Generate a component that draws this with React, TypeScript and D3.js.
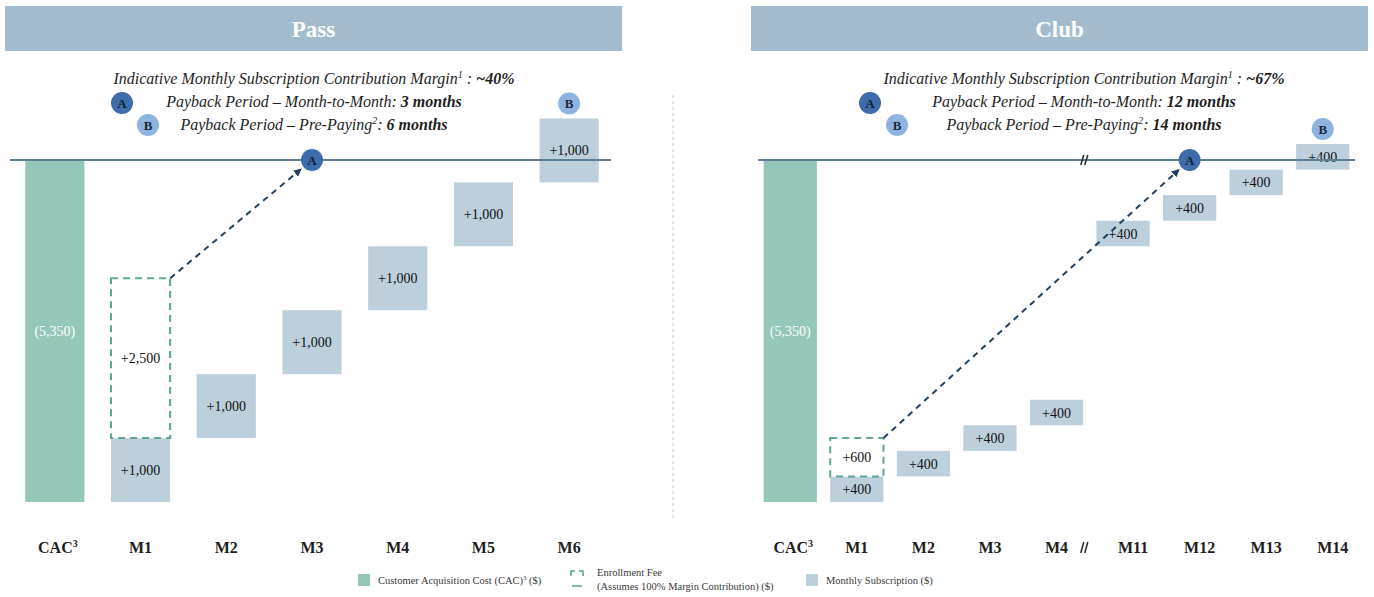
import React from "react";
import * as d3 from "d3";

// ---------- data ----------
const passCategories = ["CAC", "M1", "M2", "M3", "M4", "M5", "M6"];
const passMonths = [1, 2, 3, 4, 5, 6];
const passSubscription = [1000, 1000, 1000, 1000, 1000, 1000];
const passEnrollment = 2500;
const passCac = 5350;
const passMargin = "~40%";
const passPaybackMonthly = "3 months";
const passPaybackPrepay = "6 months";
const passPaybackA = "M3";
const passPaybackB = "M6";

const clubCategories = ["CAC", "M1", "M2", "M3", "M4", "M11", "M12", "M13", "M14"];
const clubMonths = [1, 2, 3, 4, 11, 12, 13, 14];
const clubSubscription = [400, 400, 400, 400, 400, 400, 400, 400];
const clubEnrollment = 600;
const clubCac = 5350;
const clubMargin = "~67%";
const clubPaybackMonthly = "12 months";
const clubPaybackPrepay = "14 months";
const clubPaybackA = "M12";
const clubPaybackB = "M14";

const legendItems = ["Customer Acquisition Cost (CAC)", "Enrollment Fee", "(Assumes 100% Margin Contribution) ($)", "Monthly Subscription ($)"];

// ---------- style ----------
const W = 1374;
const H = 597;
const FONT = "'Liberation Serif', 'Times New Roman', serif";
const COL = {
  header: "#a3bbcf",
  cac: "#93c8b9",
  sub: "#bccfdb",
  enroll: "#5ea690",
  line: "#5c7f95",
  arrow: "#23405e",
  a: "#3f6cab",
  b: "#8fb3e0",
  text: "#1e1e1e",
};

const y = d3.scaleLinear().domain([-5350, 0]).range([502, 160]);
const fmt = d3.format(",");

type PanelProps = {
  id: string;
  title: string;
  headerX: [number, number];
  lineX: [number, number];
  bandRange: [number, number];
  paddingInner: number;
  paddingOuter: number;
  categories: string[];
  months: number[];
  subs: number[];
  enrollment: number;
  cac: number;
  textCx: number;
  margin: string;
  monthly: string;
  prepay: string;
  aX: number;
  bX: number;
  paybackA: string;
  paybackB: string;
  breakAfter?: string;
  labelFont: number;
};

function Circle({ cx, cy, fill, label }: { cx: number; cy: number; fill: string; label: string }) {
  return (
    <g>
      <circle cx={cx} cy={cy} r={11} fill={fill} />
      <text x={cx} y={cy + 4.5} textAnchor="middle" fontFamily={FONT} fontWeight="bold" fontSize={13} fill={label === "A" ? "#0e1f33" : "#1a2a3a"}>
        {label}
      </text>
    </g>
  );
}

function Panel(p: PanelProps) {
  const x = d3
    .scaleBand<string>()
    .domain(p.categories)
    .range(p.bandRange)
    .paddingInner(p.paddingInner)
    .paddingOuter(p.paddingOuter);
  const bw = x.bandwidth();
  const cx = (c: string) => (x(c) as number) + bw / 2;
  const y0 = y(0);

  const bars = p.months.map((m, i) => {
    const start = -p.cac + (m - 1) * p.subs[i];
    return { cat: p.categories[i + 1], start, end: start + p.subs[i], v: p.subs[i] };
  });
  const m1 = bars[0];
  const enrTop = m1.end + p.enrollment;

  const aCx = cx(p.paybackA);
  const barB = bars.find((b) => b.cat === p.paybackB)!;

  // arrow
  const ax0 = (x(m1.cat) as number) + bw;
  const ay0 = y(enrTop);
  const dx = aCx - ax0;
  const dy = y0 - ay0;
  const len = Math.sqrt(dx * dx + dy * dy);
  const ax1 = aCx - (dx / len) * 15;
  const ay1 = y0 - (dy / len) * 15;

  let brk: number | null = null;
  let brkIndex = p.categories.length;
  if (p.breakAfter) {
    const i = p.categories.indexOf(p.breakAfter);
    brkIndex = i;
    brk = ((x(p.categories[i]) as number) + bw + (x(p.categories[i + 1]) as number)) / 2 - 5;
  }

  return (
    <g>
      <rect x={p.headerX[0]} y={6} width={p.headerX[1] - p.headerX[0]} height={45} fill={COL.header} />
      <text x={(p.headerX[0] + p.headerX[1]) / 2} y={37} textAnchor="middle" fontFamily={FONT} fontSize={23} fill="#fff" fontWeight="bold">
        {p.title}
      </text>

      <g fontFamily={FONT} fontStyle="italic" fontSize={16} fill={COL.text} textAnchor="middle">
        <text x={p.textCx} y={84}>
          Indicative Monthly Subscription Contribution Margin
          <tspan fontSize={10} dy={-6}>1</tspan>
          <tspan dy={6}> : </tspan>
          <tspan fontWeight="bold">{p.margin}</tspan>
        </text>
        <text x={p.textCx} y={107}>
          Payback Period – Month-to-Month: <tspan fontWeight="bold">{p.monthly}</tspan>
        </text>
        <text x={p.textCx} y={130}>
          Payback Period – Pre-Paying
          <tspan fontSize={10} dy={-6}>2</tspan>
          <tspan dy={6}>: </tspan>
          <tspan fontWeight="bold">{p.prepay}</tspan>
        </text>
      </g>
      <Circle cx={p.aX} cy={103} fill={COL.a} label="A" />
      <Circle cx={p.bX} cy={125} fill={COL.b} label="B" />

      {/* CAC bar */}
      <rect x={x("CAC")} y={y0} width={bw} height={y(-p.cac) - y0} fill={COL.cac} />
      <text x={cx("CAC")} y={(y0 + y(-p.cac)) / 2 + 5} textAnchor="middle" fontFamily={FONT} fontSize={14} fill="#fff">
        ({fmt(p.cac)})
      </text>

      {/* subscription bars */}
      {bars.map((b) => (
        <g key={b.cat}>
          <rect x={x(b.cat)} y={y(b.end)} width={bw} height={y(b.start) - y(b.end)} fill={COL.sub} />
          <text x={cx(b.cat)} y={(y(b.start) + y(b.end)) / 2 + 5} textAnchor="middle" fontFamily={FONT} fontSize={14} fill="#111">
            +{fmt(b.v)}
          </text>
        </g>
      ))}

      {/* enrollment fee */}
      <rect
        x={x(m1.cat)}
        y={y(enrTop)}
        width={bw}
        height={y(m1.end) - y(enrTop)}
        fill="#fff"
        stroke={COL.enroll}
        strokeWidth={2}
        strokeDasharray="7,5"
      />
      <text x={cx(m1.cat)} y={(y(m1.end) + y(enrTop)) / 2 + 5} textAnchor="middle" fontFamily={FONT} fontSize={14} fill="#111">
        +{fmt(p.enrollment)}
      </text>

      {/* zero line */}
      <line x1={p.lineX[0]} x2={p.lineX[1]} y1={y0} y2={y0} stroke={COL.line} strokeWidth={2} />

      {/* arrow */}
      <line x1={ax0} y1={ay0} x2={ax1} y2={ay1} stroke={COL.arrow} strokeWidth={2} strokeDasharray="6,5" markerEnd={`url(#arr-${p.id})`} />
      <defs>
        <marker id={`arr-${p.id}`} viewBox="0 0 10 10" refX={8} refY={5} markerWidth={4} markerHeight={4} orient="auto">
          <path d="M0,0 L10,5 L0,10 z" fill={COL.arrow} />
        </marker>
      </defs>

      <Circle cx={aCx} cy={y0} fill={COL.a} label="A" />
      <Circle cx={cx(p.paybackB)} cy={y(barB.end) - 15} fill={COL.b} label="B" />

      {/* break markers */}
      {brk !== null && (
        <g stroke="#333" strokeWidth={1.6}>
          <line x1={brk - 4} y1={y0 + 5} x2={brk - 1} y2={y0 - 5} />
          <line x1={brk} y1={y0 + 5} x2={brk + 3} y2={y0 - 5} />
          <line x1={brk - 4} y1={553} x2={brk - 1} y2={542} />
          <line x1={brk} y1={553} x2={brk + 3} y2={542} />
        </g>
      )}

      {/* category labels */}
      <g fontFamily={FONT} fontWeight="bold" fontSize={p.labelFont} fill={COL.text} textAnchor="middle">
        {p.categories.map((c, i) => (
          <text key={c} x={cx(c) + (c === "CAC" ? 3 : 0) + (i > brkIndex ? 10 : 0)} y={553}>
            {c}
            {c === "CAC" && (
              <tspan fontSize={10} dy={-6}>
                3
              </tspan>
            )}
          </text>
        ))}
      </g>
    </g>
  );
}

export default function App() {
  return (
    <svg width={W} height={H} style={{ position: "absolute", left: 0, top: 0, background: "#fff" }}>
      <rect width={W} height={H} fill="#fff" />
      <Panel
        id="pass"
        title="Pass"
        headerX={[5, 622]}
        lineX={[10, 611]}
        bandRange={[12, 612]}
        paddingInner={0.31}
        paddingOuter={0.155}
        categories={passCategories}
        months={passMonths}
        subs={passSubscription}
        enrollment={passEnrollment}
        cac={passCac}
        textCx={314}
        margin={passMargin}
        monthly={passPaybackMonthly}
        prepay={passPaybackPrepay}
        aX={122}
        bX={148}
        paybackA={passPaybackA}
        paybackB={passPaybackB}
        labelFont={16}
      />
      <line x1={673} x2={673} y1={95} y2={520} stroke="#c8c8c8" strokeWidth={1} strokeDasharray="3,3" />
      <Panel
        id="club"
        title="Club"
        headerX={[751, 1368]}
        lineX={[758, 1355]}
        bandRange={[757, 1356]}
        paddingInner={0.2}
        paddingOuter={0.1}
        categories={clubCategories}
        months={clubMonths}
        subs={clubSubscription}
        enrollment={clubEnrollment}
        cac={clubCac}
        textCx={1084}
        margin={clubMargin}
        monthly={clubPaybackMonthly}
        prepay={clubPaybackPrepay}
        aX={870}
        bX={897}
        paybackA={clubPaybackA}
        paybackB={clubPaybackB}
        breakAfter="M4"
        labelFont={16}
      />

      {/* legend */}
      <g fontFamily={FONT} fontSize={10.5} fill="#3a3a3a">
        <rect x={358} y={574} width={12} height={12} fill={COL.cac} />
        <text x={378} y={584}>
          {legendItems[0]}
          <tspan fontSize={7} dy={-4}>3</tspan>
          <tspan dy={4}> ($)</tspan>
        </text>
        <g stroke={COL.enroll} strokeWidth={1.6} fill="none">
          <path d="M571,576 L571,571 L575,571" />
          <path d="M579,571 L583,571 L583,576" />
          <line x1={572} x2={582} y1={586} y2={586} />
        </g>
        <text x={597} y={576}>{legendItems[1]}</text>
        <text x={597} y={590}>{legendItems[2]}</text>
        <rect x={806} y={574} width={12} height={12} fill={COL.sub} />
        <text x={826} y={584}>{legendItems[3]}</text>
      </g>
    </svg>
  );
}
